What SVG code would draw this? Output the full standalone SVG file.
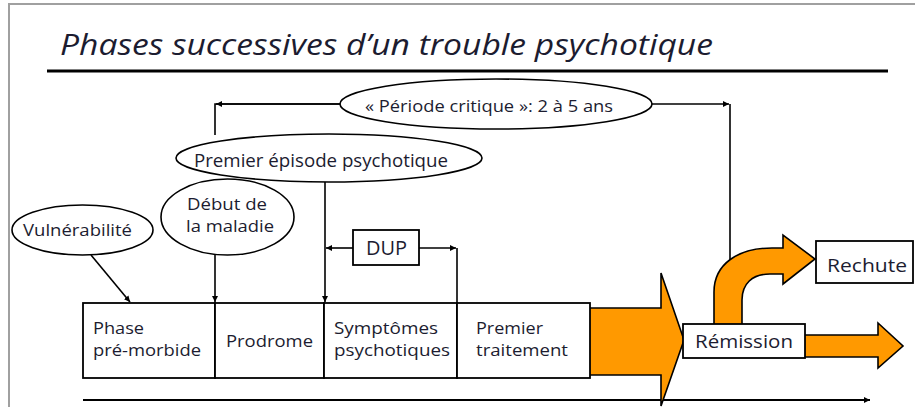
<svg xmlns="http://www.w3.org/2000/svg" width="915" height="407" viewBox="0 0 915 407">
<defs>
<style>
.t{font-family:"Open Sans","Liberation Sans",sans-serif;fill:#1c1c30;}
.ln{stroke:#000;stroke-width:1.6;fill:none;}
.el{fill:#fff;stroke:#000;stroke-width:1.6;}
.bx{fill:#fff;stroke:#000;stroke-width:1.8;}
.or{fill:#ff9900;stroke:#000;stroke-width:1.6;stroke-linejoin:miter;}
</style>
<marker id="ah" viewBox="0 0 10 10" refX="10" refY="5" markerWidth="6" markerHeight="6" markerUnits="userSpaceOnUse" orient="auto">
<path d="M0,0 L10,5 L0,10 Z" fill="#000"/>
</marker>
</defs>
<rect width="915" height="407" fill="#fff"/>
<path d="M9,407 V4 H915" fill="none" stroke="#a0a0a0" stroke-width="2"/>
<text class="t" x="60" y="55" font-size="29" font-style="italic" textLength="653" lengthAdjust="spacingAndGlyphs">Phases successives d’un trouble psychotique</text>
<line x1="47" y1="71" x2="888" y2="71" stroke="#000" stroke-width="3"/>

<g id="connectors">
<path class="ln" d="M215,135 V104 H340" />
<path class="ln" d="M340,104 H216" marker-end="url(#ah)"/>
<path class="ln" d="M652,104 H729" marker-end="url(#ah)"/>
<path class="ln" d="M730,104 V270"/>
<path class="ln" d="M91,255 L130,302" marker-end="url(#ah)"/>
<path class="ln" d="M215,255 V302" marker-end="url(#ah)"/>
<path class="ln" d="M325,182 V302" marker-end="url(#ah)"/>
<path class="ln" d="M353,248 H326" marker-end="url(#ah)"/>
<path class="ln" d="M419,248 H456"  marker-end="url(#ah)"/>
<path class="ln" d="M457,248 V303"/>
<path d="M83,400 H870" stroke="#000" stroke-width="2.2" fill="none" marker-end="url(#ah)"/>
</g>

<g id="periode">
<ellipse class="el" cx="496" cy="104" rx="156" ry="25"/>
<text class="t" x="489" y="112" font-size="17" text-anchor="middle" textLength="248" lengthAdjust="spacingAndGlyphs">« Période critique »: 2 à 5 ans</text>
</g>
<g id="premier-episode">
<ellipse class="el" cx="329" cy="158" rx="153" ry="24"/>
<text class="t" x="321" y="167" font-size="18" text-anchor="middle" textLength="254" lengthAdjust="spacingAndGlyphs">Premier épisode psychotique</text>
</g>
<g id="debut">
<ellipse class="el" cx="227.5" cy="217" rx="66.5" ry="38"/>
<text class="t" x="227" y="210" font-size="17" text-anchor="middle" textLength="80" lengthAdjust="spacingAndGlyphs">Début de</text>
<text class="t" x="230" y="232" font-size="17" text-anchor="middle" textLength="88" lengthAdjust="spacingAndGlyphs">la maladie</text>
</g>
<g id="vulnerabilite">
<ellipse class="el" cx="82.5" cy="230" rx="70.5" ry="25"/>
<text class="t" x="77.5" y="236" font-size="17" text-anchor="middle" textLength="109" lengthAdjust="spacingAndGlyphs">Vulnérabilité</text>
</g>
<g id="dup">
<rect class="bx" x="353" y="230" width="66" height="35"/>
<text class="t" x="386.5" y="255" font-size="20" text-anchor="middle" textLength="41" lengthAdjust="spacingAndGlyphs">DUP</text>
</g>

<g id="orange-arrow-main">
<path class="or" d="M589,308 H661 V273 L684,340 L661,406 V375 H589 Z"/>
</g>
<g id="orange-arrow-right">
<path class="or" d="M804,335 H878 V323 L903,346 L878,368 V357 H804 Z"/>
</g>
<g id="orange-arrow-curve">
<path class="or" d="M714,325 V292 C714,264 738,248 772,248 H783 V235 L815,259 L783,284 V274 H770 C752,274 742,284 742,300 V325 Z"/>
</g>

<g id="phase-premorbide">
<rect class="bx" x="83" y="303" width="132" height="75"/>
<text class="t" x="93" y="334" font-size="17" textLength="51" lengthAdjust="spacingAndGlyphs">Phase</text>
<text class="t" x="93" y="356" font-size="17" textLength="108" lengthAdjust="spacingAndGlyphs">pré-morbide</text>
</g>
<g id="prodrome">
<rect class="bx" x="215" y="303" width="109" height="75"/>
<text class="t" x="226" y="347" font-size="17" textLength="87" lengthAdjust="spacingAndGlyphs">Prodrome</text>
</g>
<g id="symptomes">
<rect class="bx" x="324" y="303" width="133" height="75"/>
<text class="t" x="334" y="334" font-size="17" textLength="104" lengthAdjust="spacingAndGlyphs">Symptômes</text>
<text class="t" x="334" y="356" font-size="17" textLength="116" lengthAdjust="spacingAndGlyphs">psychotiques</text>
</g>
<g id="premier-traitement">
<rect class="bx" x="457" y="303" width="133" height="75"/>
<text class="t" x="476" y="334" font-size="17" textLength="67" lengthAdjust="spacingAndGlyphs">Premier</text>
<text class="t" x="476" y="356" font-size="17" textLength="92" lengthAdjust="spacingAndGlyphs">traitement</text>
</g>
<g id="remission">
<rect class="bx" x="683" y="324" width="122" height="34"/>
<text class="t" x="695" y="348" font-size="19" textLength="98" lengthAdjust="spacingAndGlyphs">Rémission</text>
</g>
<g id="rechute">
<rect class="bx" x="816" y="241" width="97" height="42"/>
<text class="t" x="827" y="272" font-size="19" textLength="80" lengthAdjust="spacingAndGlyphs">Rechute</text>
</g>
</svg>
